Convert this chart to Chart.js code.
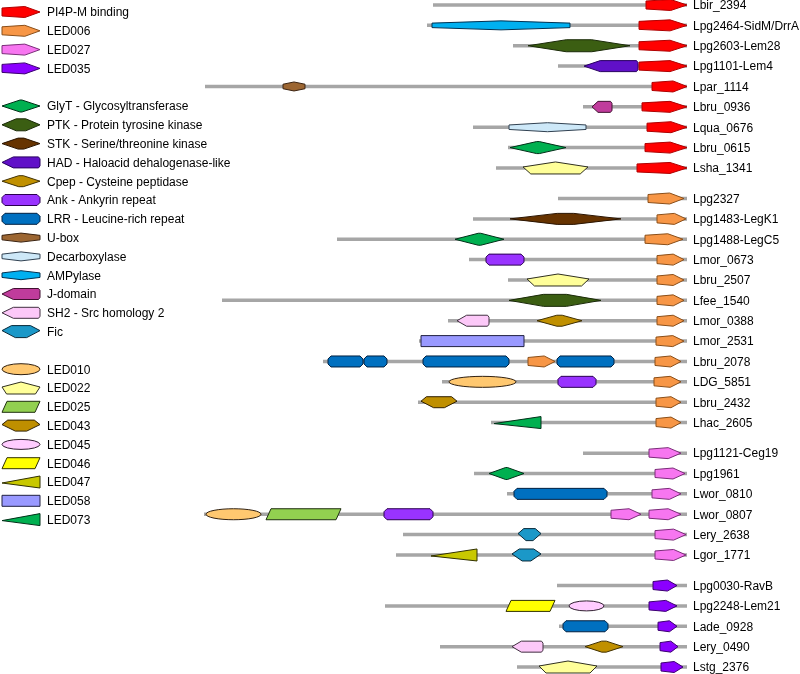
<!DOCTYPE html>
<html>
<head>
<meta charset="utf-8">
<script src="https://cdn.jsdelivr.net/npm/chart.js@4.4.1/dist/chart.umd.min.js"></script>
<style>
  html, body { margin: 0; padding: 0; background: #fff; }
  #wrap { width: 800px; height: 674px; }
</style>
</head>
<body>
<div id="wrap"><canvas id="c" width="800" height="674"></canvas></div>
<script>
// protein names (one row each) and their vertical slot
const proteins = ['Lbir_2394', 'Lpg2464-SidM/DrrA', 'Lpg2603-Lem28', 'Lpg1101-Lem4', 'Lpar_1114',
    'Lbru_0936', 'Lqua_0676', 'Lbru_0615', 'Lsha_1341',
    'Lpg2327', 'Lpg1483-LegK1', 'Lpg1488-LegC5', 'Lmor_0673', 'Lbru_2507', 'Lfee_1540',
    'Lmor_0388', 'Lmor_2531', 'Lbru_2078', 'LDG_5851', 'Lbru_2432', 'Lhac_2605',
    'Lpg1121-Ceg19', 'Lpg1961', 'Lwor_0810', 'Lwor_0807', 'Lery_2638', 'Lgor_1771',
    'Lpg0030-RavB', 'Lpg2248-Lem21', 'Lade_0928', 'Lery_0490', 'Lstg_2376'];
const rowPos = [0, 1, 2, 3, 4, 5, 6, 7, 8,
    9.5, 10.5, 11.5, 12.5, 13.5, 14.5, 15.5, 16.5, 17.5, 18.5, 19.5, 20.5,
    22, 23, 24, 25, 26, 27,
    28.5, 29.5, 30.5, 31.5, 32.5];

// backbone of each protein
const lineStart = [433, 427, 513, 558, 205, 583, 473, 508, 496,
    558, 473, 337, 469, 508, 222, 448, 419, 323, 442, 418, 491,
    583, 474, 507, 204, 403, 396,
    557, 385, 559, 440, 517];
const lineEnd = [687, 687, 687, 687, 687, 687, 687, 687, 687,
    687, 687, 687, 687, 687, 687, 687, 687, 687, 687, 687, 687,
    687, 687, 687, 687, 687, 687,
    687, 687, 687, 687, 687];

// domains per protein: [type, from, to]
const rowDomains = [
    [['PI4P', 646, 687]],
    [['AMP', 432, 570], ['PI4P', 639, 687]],
    [['PTK', 528, 630], ['PI4P', 639, 687]],
    [['HAD', 584, 638], ['PI4P', 639, 687]],
    [['UBOX', 283, 305], ['PI4P', 652, 687]],
    [['J', 592, 612], ['PI4P', 642, 687]],
    [['DEC', 509, 586], ['PI4P', 647, 687]],
    [['GLYT', 510, 566], ['PI4P', 645, 687]],
    [['LED022', 523, 588], ['PI4P', 637, 687]],
    [['LED006', 648, 684]],
    [['STK', 510, 621], ['LED006', 657, 686]],
    [['GLYT', 455, 504], ['LED006', 645, 683]],
    [['ANK', 486, 524], ['LED006', 657, 684]],
    [['LED022', 527, 589], ['LED006', 657, 684]],
    [['PTK', 509, 601], ['LED006', 657, 684]],
    [['SH2', 457, 489], ['CPEP', 537, 582], ['LED006', 657, 684]],
    [['LED058', 421, 524], ['LED006', 656, 684]],
    [['LRR', 328, 363], ['LRR', 364, 387], ['LRR', 423, 509], ['LED006', 528, 555], ['LRR', 557, 614], ['LED006', 655, 681]],
    [['LED010', 449, 516], ['ANK', 558, 596], ['LED006', 654, 681]],
    [['LED043', 421, 457], ['LED006', 656, 681]],
    [['LED073', 494, 541], ['LED006', 656, 681]],
    [['LED027', 649, 681]],
    [['GLYT', 489, 524], ['LED027', 655, 685]],
    [['LRR', 514, 607], ['LED027', 652, 681]],
    [['LED010', 206, 261], ['LED025', 266, 341], ['ANK', 384, 433], ['LED027', 611, 641], ['LED027', 649, 681]],
    [['FIC', 518, 541], ['LED027', 655, 686]],
    [['LED047', 431, 477], ['FIC', 512, 541], ['LED027', 655, 686]],
    [['LED035', 653, 677]],
    [['LED046', 506, 555], ['LED045', 569, 604], ['LED035', 649, 677]],
    [['LRR', 563, 608], ['LED035', 658, 677]],
    [['SH2', 512, 543], ['CPEP', 585, 623], ['LED035', 660, 678]],
    [['LED022', 539, 597], ['LED035', 661, 683]]
];

// legend
const legendKeys = ['PI4P', 'LED006', 'LED027', 'LED035',
    'GLYT', 'PTK', 'STK', 'HAD', 'CPEP', 'ANK', 'LRR', 'UBOX', 'DEC', 'AMP', 'J', 'SH2', 'FIC',
    'LED010', 'LED022', 'LED025', 'LED043', 'LED045', 'LED046', 'LED047', 'LED058', 'LED073'];
const legendLabels = ['PI4P-M binding', 'LED006', 'LED027', 'LED035',
    'GlyT - Glycosyltransferase', 'PTK - Protein tyrosine kinase', 'STK - Serine/threonine kinase',
    'HAD - Haloacid dehalogenase-like', 'Cpep - Cysteine peptidase', 'Ank - Ankyrin repeat',
    'LRR - Leucine-rich repeat', 'U-box', 'Decarboxylase', 'AMPylase', 'J-domain',
    'SH2 - Src homology 2', 'Fic',
    'LED010', 'LED022', 'LED025', 'LED043', 'LED045', 'LED046', 'LED047', 'LED058', 'LED073'];
const legendSlot = [0, 1, 2, 3, 5, 6, 7, 8, 9, 10, 11, 12, 13, 14, 15, 16, 17,
    19, 20, 21, 22, 23, 24, 25, 26, 27];

// how each domain type looks
const styles = {
    PI4P:   { shape: 'arrow',   fill: '#ff0000', stroke: '#b00000', h: 11 },
    LED006: { shape: 'arrow',   fill: '#f79646', stroke: '#8a4e18', h: 11 },
    LED027: { shape: 'arrow',   fill: '#f776f0', stroke: '#7a2c78', h: 11 },
    LED035: { shape: 'arrow',   fill: '#8b00ff', stroke: '#3c0070', h: 11 },
    GLYT:   { shape: 'diamond', fill: '#00b050', stroke: '#003018', h: 12, f: 0.05 },
    PTK:    { shape: 'diamond', fill: '#3b5e12', stroke: '#1a2a08', h: 12, f: 0.25 },
    STK:    { shape: 'diamond', fill: '#663300', stroke: '#2a1400', h: 11, f: 0.15 },
    HAD:    { shape: 'arrowL',  fill: '#6010c8', stroke: '#280060', h: 11 },
    CPEP:   { shape: 'diamond', fill: '#c09000', stroke: '#403000', h: 11, f: 0.12 },
    ANK:    { shape: 'round',   fill: '#9933ff', stroke: '#2a0050', h: 11 },
    LRR:    { shape: 'round',   fill: '#0070c0', stroke: '#002040', h: 11 },
    UBOX:   { shape: 'flathex', fill: '#9c6632', stroke: '#3a2210', h: 9 },
    DEC:    { shape: 'flathex', fill: '#cde8f8', stroke: '#304050', h: 9 },
    AMP:    { shape: 'flathex', fill: '#00b0f0', stroke: '#003050', h: 9 },
    J:      { shape: 'arrowL',  fill: '#c03c9c', stroke: '#401030', h: 11 },
    SH2:    { shape: 'arrowL',  fill: '#fcc8f8', stroke: '#403040', h: 11 },
    FIC:    { shape: 'fic',     fill: '#1b98c8', stroke: '#082838', h: 12 },
    LED010: { shape: 'ellipse', fill: '#ffc870', stroke: '#302010', h: 11 },
    LED022: { shape: 'pentUp',  fill: '#ffff99', stroke: '#303020', h: 12 },
    LED025: { shape: 'para',    fill: '#92d050', stroke: '#203010', h: 11 },
    LED043: { shape: 'pentDown', fill: '#bf8f00', stroke: '#302000', h: 11 },
    LED045: { shape: 'ellipse', fill: '#ffccff', stroke: '#302030', h: 10 },
    LED046: { shape: 'para',    fill: '#ffff00', stroke: '#303000', h: 11 },
    LED047: { shape: 'wedge',   fill: '#c8c800', stroke: '#303000', h: 12 },
    LED058: { shape: 'rect',    fill: '#9999ff', stroke: '#202040', h: 11 },
    LED073: { shape: 'wedge',   fill: '#00b050', stroke: '#003018', h: 12 }
};

const FONT = '12px "Liberation Sans", Arial, sans-serif';

function shapePath(ctx, st, x0, x1, yc) {
    const w = x1 - x0, h = st.h, t = yc - h / 2, b = yc + h / 2, xm = (x0 + x1) / 2;
    let p;
    switch (st.shape) {
        case 'arrow': {
            const tip = Math.min(w * 0.4, 17);
            p = [[x0, t + 1.5], [x1 - tip, t], [x1, yc], [x1 - tip, b], [x0, b - 1.5]];
            break;
        }
        case 'arrowL': {
            const tip = w * 0.3;
            p = [[x0, yc], [x0 + tip, t], [x1 - 1.5, t], [x1, t + 2], [x1, b - 2], [x1 - 1.5, b], [x0 + tip, b]];
            break;
        }
        case 'diamond': {
            const a = w * (1 - st.f) / 2;
            p = [[x0, yc], [x0 + a, t], [x1 - a, t], [x1, yc], [x1 - a, b], [x0 + a, b]];
            break;
        }
        case 'flathex':
            p = [[x0, yc - h * 0.25], [xm, t], [x1, yc - h * 0.25], [x1, yc + h * 0.25], [xm, b], [x0, yc + h * 0.25]];
            break;
        case 'fic':
            p = [[x0, yc - 1], [x0 + w * 0.25, t], [x1 - w * 0.25, t], [x1, yc - 1], [xm + w * 0.15, b], [xm - w * 0.15, b]];
            break;
        case 'pentUp':
            p = [[x0, yc - 1], [xm, t], [x1, yc - 1], [x1 - w * 0.12, b], [x0 + w * 0.12, b]];
            break;
        case 'pentDown':
            p = [[x0, yc - 1], [x0 + w * 0.15, t], [x1 - w * 0.15, t], [x1, yc - 1], [x1 - w * 0.35, b], [x0 + w * 0.35, b]];
            break;
        case 'para':
            p = [[x0, b], [x0 + 5, t], [x1, t], [x1 - 5, b]];
            break;
        case 'wedge':
            p = [[x0, yc + 1], [x1, t], [x1, b]];
            break;
        case 'rect':
            p = [[x0, t], [x1, t], [x1, b], [x0, b]];
            break;
        case 'round': {
            const c = 3;
            p = [[x0, t + c], [x0 + c, t], [x1 - c, t], [x1, t + c], [x1, b - c], [x1 - c, b], [x0 + c, b], [x0, b - c]];
            break;
        }
    }
    ctx.beginPath();
    if (st.shape === 'ellipse') {
        ctx.ellipse(xm, yc, w / 2, h / 2, 0, 0, Math.PI * 2);
    } else {
        p.forEach((pt, i) => i ? ctx.lineTo(pt[0], pt[1]) : ctx.moveTo(pt[0], pt[1]));
        ctx.closePath();
    }
}

function drawShape(ctx, key, x0, x1, yc) {
    const st = styles[key];
    shapePath(ctx, st, x0, x1, yc);
    ctx.fillStyle = st.fill;
    ctx.fill();
    ctx.lineWidth = 1;
    ctx.strokeStyle = st.stroke;
    ctx.stroke();
}

// domains, protein labels and the key on the left
const domainPlugin = {
    id: 'domains',
    afterDatasetsDraw(chart) {
        const ctx = chart.ctx;
        const xs = chart.scales.x, ys = chart.scales.y;
        ctx.save();
        rowDomains.forEach((doms, i) => {
            const yc = ys.getPixelForValue(rowPos[i]);
            doms.forEach(d => drawShape(ctx, d[0], xs.getPixelForValue(d[1]), xs.getPixelForValue(d[2]), yc));
        });
        ctx.font = FONT;
        ctx.fillStyle = '#000';
        ctx.textBaseline = 'middle';
        ctx.textAlign = 'left';
        proteins.forEach((name, i) => {
            ctx.fillText(name, xs.getPixelForValue(lineEnd[i]) + 6, ys.getPixelForValue(rowPos[i]) + 1);
        });
        // key
        legendKeys.forEach((key, i) => {
            const yc = 12 + legendSlot[i] * 18.8;
            drawShape(ctx, key, 2, 40, yc);
            ctx.fillStyle = '#000';
            ctx.fillText(legendLabels[i], 47, yc + 1);
        });
        ctx.restore();
    }
};

const datasets = proteins.map((name, i) => ({
    label: name,
    data: [{ x: lineStart[i], y: rowPos[i] }, { x: lineEnd[i], y: rowPos[i] }],
    showLine: true,
    borderColor: '#a6a6a6',
    borderWidth: 3.5,
    borderCapStyle: 'butt',
    pointRadius: 0,
    pointHoverRadius: 0
}));

new Chart(document.getElementById('c'), {
    type: 'scatter',
    data: { datasets },
    options: {
        responsive: false,
        animation: false,
        devicePixelRatio: 1,
        layout: { padding: 0 },
        plugins: { legend: { display: false }, tooltip: { enabled: false } },
        scales: {
            x: { type: 'linear', min: 0, max: 800, display: false },
            y: { type: 'linear', min: -0.2455, max: 32.843, reverse: true, display: false }
        }
    },
    plugins: [domainPlugin]
});
</script>
</body>
</html>
